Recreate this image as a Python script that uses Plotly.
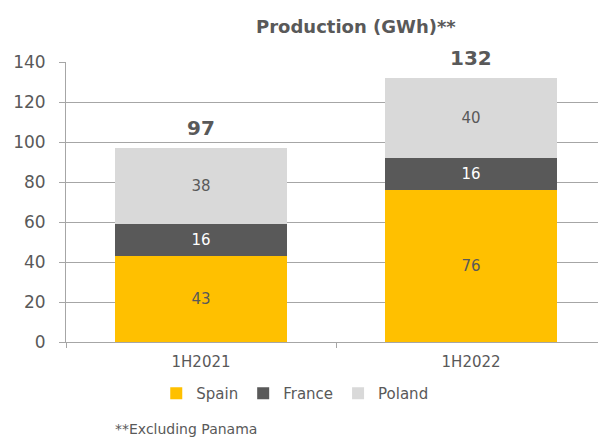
import plotly.graph_objects as go

categories = ["1H2021", "1H2022"]
spain = [43, 76]
france = [16, 16]
poland = [38, 40]
series_names = ["Spain", "France", "Poland"]
colors = ["#FFC000", "#595959", "#D9D9D9"]
label_colors = ["#595959", "#FFFFFF", "#595959"]
totals = [97, 132]

TXT = "#595959"
FONT = "DejaVu Sans, Verdana, sans-serif"

fig = go.Figure()
for name, vals, c, lc in zip(series_names, [spain, france, poland], colors, label_colors):
    fig.add_trace(go.Bar(
        x=categories, y=vals, name=name, marker=dict(color=c, line=dict(width=0)),
        text=[str(v) for v in vals], textposition="inside", insidetextanchor="middle",
        textfont=dict(color=lc, size=15, family=FONT), width=0.637,
        hoverinfo="skip",
    ))

for cat, tot in zip(categories, totals):
    fig.add_annotation(x=cat, y=tot, text=f"<b>{tot}</b>", showarrow=False,
                       yanchor="bottom", yshift=6,
                       font=dict(size=20, color=TXT, family=FONT))

fig.add_annotation(xref="paper", yref="paper", x=0.545, y=1.0, yshift=48,
                   text="<b>Production (GWh)**</b>", showarrow=False,
                   font=dict(size=18, color=TXT, family=FONT))
fig.add_annotation(xref="paper", yref="paper", x=0.088, xanchor="left",
                   y=0, yshift=-87, yanchor="middle",
                   text="**Excluding Panama", showarrow=False,
                   font=dict(size=14, color=TXT, family=FONT))

fig.update_layout(
    barmode="stack",
    width=598, height=439,
    margin=dict(l=66, r=0, t=62, b=97),
    paper_bgcolor="white", plot_bgcolor="white",
    font=dict(family=FONT, color=TXT),
    showlegend=True,
    legend=dict(orientation="h", x=0.43, xanchor="center", y=-0.125, yanchor="top",
                itemwidth=30, traceorder="normal",
                font=dict(size=15, color=TXT, family=FONT)),
    xaxis=dict(range=[-0.5, 1.47], showline=True, linecolor="#A6A6A6", linewidth=1,
               ticks="outside", tickson="boundaries", ticklen=5, tickcolor="#A6A6A6",
               tickfont=dict(size=15, color=TXT), showgrid=False, ticklabelstandoff=6),
    yaxis=dict(range=[0, 140], dtick=20, showline=True, linecolor="#A6A6A6", linewidth=1,
               ticks="outside", ticklen=6, tickcolor="#A6A6A6",
               gridcolor="#A6A6A6", gridwidth=1, zeroline=False,
               tickfont=dict(size=17, color=TXT), ticklabelstandoff=10),
)

fig.write_html("out.html", config={"displayModeBar": False},
               post_script="document.body.style.margin='0px';")
